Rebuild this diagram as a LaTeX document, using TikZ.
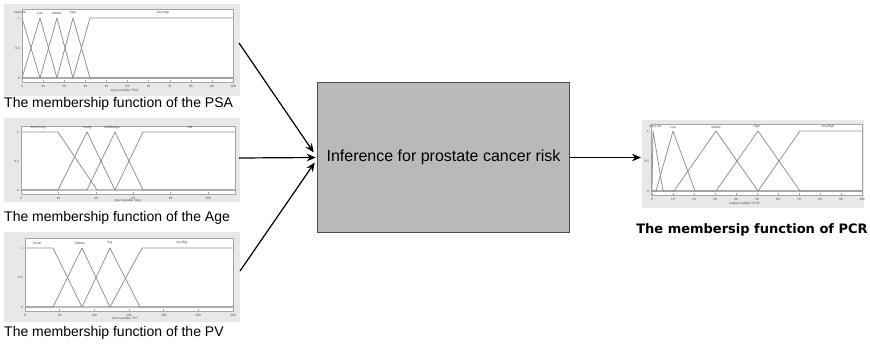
\documentclass[tikz,border=0pt]{standalone}
\usepackage{fontspec}
\setmainfont{Liberation Sans}
\newfontfamily\pcrfont{DejaVu Sans}
\usetikzlibrary{arrows.meta,calc}
\definecolor{panelgray}{HTML}{E8E8E8}
\definecolor{axisgray}{HTML}{A5A5A5}
\definecolor{mfgray}{HTML}{8E8E8E}
\definecolor{boxfill}{HTML}{B9B9B9}
\definecolor{boxedge}{HTML}{4F4F4F}
\begin{document}
\begin{tikzpicture}[x=1pt,y=-1pt,
  panel/.style={fill=panelgray, draw=none, inner sep=0pt, outer sep=0pt},
  axesbox/.style={fill=white, draw=axisgray, line width=0.6pt},
  mf/.style={draw=mfgray, line width=0.75pt, line join=round},
  tick/.style={draw=axisgray, line width=0.4pt},
  tiny/.style={font=\fontsize{3.2}{3.6}\selectfont, text=black!70, inner sep=0pt},
  caption/.style={font=\fontsize{14}{16}\selectfont, anchor=west, inner sep=0pt},
  flow/.style={-{Stealth[length=9pt,width=7.5pt]}, line width=1.2pt},
  engine/.style={fill=boxfill, draw=boxedge, line width=1.5pt,
    minimum width=252pt, minimum height=150pt, inner sep=0pt,
    font=\fontsize{16}{18}\selectfont}]
\useasboundingbox (0,0) rectangle (870,346);

% ---------- input: PSA ----------
\node[panel, minimum width=236pt, minimum height=92pt] (psa) at (122,50) {};
\draw[axesbox] (22,9) rectangle (233,82);
\foreach \i in {0,...,10}{
  \pgfmathsetmacro{\xx}{22+\i*21.1}
  \draw[tick] (\xx,82) -- (\xx,80);
  \pgfmathtruncatemacro{\lab}{\i*10}
  \node[tiny] at (\xx,86) {\lab};
}
\node[tiny, anchor=east] at (20,18) {1};
\node[tiny, anchor=east] at (20,48) {0.5};
\node[tiny, anchor=east] at (20,78) {0};
\draw[mf] (22,18) -- (40,78) -- (233,78);
\draw[mf] (22,78) -- (40,18) -- (57,78) -- (233,78);
\draw[mf] (22,78) -- (40,78) -- (57,18) -- (73,78) -- (233,78);
\draw[mf] (22,78) -- (57,78) -- (73,18) -- (90,78) -- (233,78);
\draw[mf] (22,78) -- (73,78) -- (90,18) -- (233,18);
\node[tiny] at (20,13) {VeryLow};
\node[tiny] at (40,13) {Low};
\node[tiny] at (57,13) {Middle};
\node[tiny] at (73,13) {High};
\node[tiny] at (163,13) {VeryHigh};
\node[tiny] at (125,91) {input variable ``PSA''};
\node[caption] (psacap) at (4,104) {The membership function of the PSA};

% ---------- input: Age ----------
\node[panel, minimum width=236pt, minimum height=84pt] (age) at (122,160) {};
\draw[axesbox] (21,126) rectangle (235,194);
\foreach \i/\lab in {0/0,1/20,2/40,3/60,4/80,5/100}{
  \pgfmathsetmacro{\xx}{21+\i*37.4}
  \draw[tick] (\xx,194) -- (\xx,192);
  \node[tiny] at (\xx,198) {\lab};
}
\node[tiny, anchor=east] at (19,132) {1};
\node[tiny, anchor=east] at (19,161) {0.5};
\node[tiny, anchor=east] at (19,190) {0};
\draw[mf] (21,132) -- (58,132) -- (97,190) -- (235,190);
\draw[mf] (21,190) -- (58,190) -- (87,132) -- (115,190) -- (235,190);
\draw[mf] (21,190) -- (87,190) -- (115,132) -- (143,190) -- (235,190);
\draw[mf] (21,190) -- (115,190) -- (143,132) -- (235,132);
\node[tiny] at (38,127.5) {VeryYoung};
\node[tiny] at (87,127.5) {Young};
\node[tiny] at (112,127.5) {MiddleAge};
\node[tiny] at (190,127.5) {Old};
\node[tiny] at (128,201) {input variable ``Age''};
\node[caption] (agecap) at (4,218) {The membership function of the Age};

% ---------- input: PV ----------
\node[panel, minimum width=236pt, minimum height=90pt] (pv) at (122,277) {};
\draw[axesbox] (25,238) rectangle (233,311);
\foreach \i in {0,...,6}{
  \pgfmathsetmacro{\xx}{25+\i*34.67}
  \draw[tick] (\xx,311) -- (\xx,309);
  \pgfmathtruncatemacro{\lab}{\i*50}
  \node[tiny] at (\xx,315) {\lab};
}
\node[tiny, anchor=east] at (23,248) {1};
\node[tiny, anchor=east] at (23,277.5) {0.5};
\node[tiny, anchor=east] at (23,307) {0};
\draw[mf] (25,248) -- (53,248) -- (82,307) -- (233,307);
\draw[mf] (25,307) -- (53,307) -- (82,248) -- (110,307) -- (233,307);
\draw[mf] (25,307) -- (82,307) -- (110,248) -- (140,307) -- (233,307);
\draw[mf] (25,307) -- (110,307) -- (142,248) -- (233,248);
\node[tiny] at (37,243) {Small};
\node[tiny] at (80,243) {Middle};
\node[tiny] at (110,243) {Big};
\node[tiny] at (182,243) {VeryBig};
\node[tiny] at (125,319) {input variable ``PV''};
\node[caption] (pvcap) at (4,333) {The membership function of the PV};

% ---------- output: PCR ----------
\node[panel, minimum width=222pt, minimum height=88pt] (pcr) at (753,164) {};
\draw[axesbox] (651,124) rectangle (862,195);
\foreach \i in {0,...,10}{
  \pgfmathsetmacro{\xx}{652+\i*21}
  \draw[tick] (\xx,195) -- (\xx,193);
  \pgfmathtruncatemacro{\lab}{\i*10}
  \node[tiny] at (\xx,199) {\lab};
}
\node[tiny, anchor=east] at (649,131) {1};
\node[tiny, anchor=east] at (649,161) {0.5};
\node[tiny, anchor=east] at (649,191) {0};
\draw[mf] (652,191) -- (653,131) -- (663,191) -- (862,191);
\draw[mf] (652,191) -- (656,191) -- (673,131) -- (695,191) -- (862,191);
\draw[mf] (652,191) -- (674,191) -- (716,131) -- (758,191) -- (862,191);
\draw[mf] (652,191) -- (716,191) -- (758,131) -- (800,191) -- (862,191);
\draw[mf] (652,191) -- (758,191) -- (800,131) -- (862,131);
\node[tiny] at (655,127) {VeryLow};
\node[tiny] at (673,127) {Low};
\node[tiny] at (716,127) {Middle};
\node[tiny] at (757,127) {High};
\node[tiny] at (828,127) {VeryHigh};
\node[tiny] at (745,204) {output variable ``PCR''};
\node[font=\pcrfont\bfseries\fontsize{13}{15}\selectfont, inner sep=0pt] (pcrcap) at (752,230) {The membersip function of PCR};

% ---------- inference engine ----------
\node[engine] (engine) at (443.5,157.5) {Inference for prostate cancer risk};

% ---------- connectors ----------
\coordinate (psaout) at (239,43);
\coordinate (ageout) at (239,158);
\coordinate (pvout) at (240,271);
\coordinate (pcrin) at (641,157.5);
\draw[flow] (psaout) -- ($(engine.west)+(-3,-5)$);
\draw[flow] (ageout) -- ($(engine.west)+(-1,0)$);
\draw[flow] (pvout) -- ($(engine.west)+(-2,5)$);
\draw[flow] (engine.east) -- (pcrin);
\end{tikzpicture}
\end{document}
